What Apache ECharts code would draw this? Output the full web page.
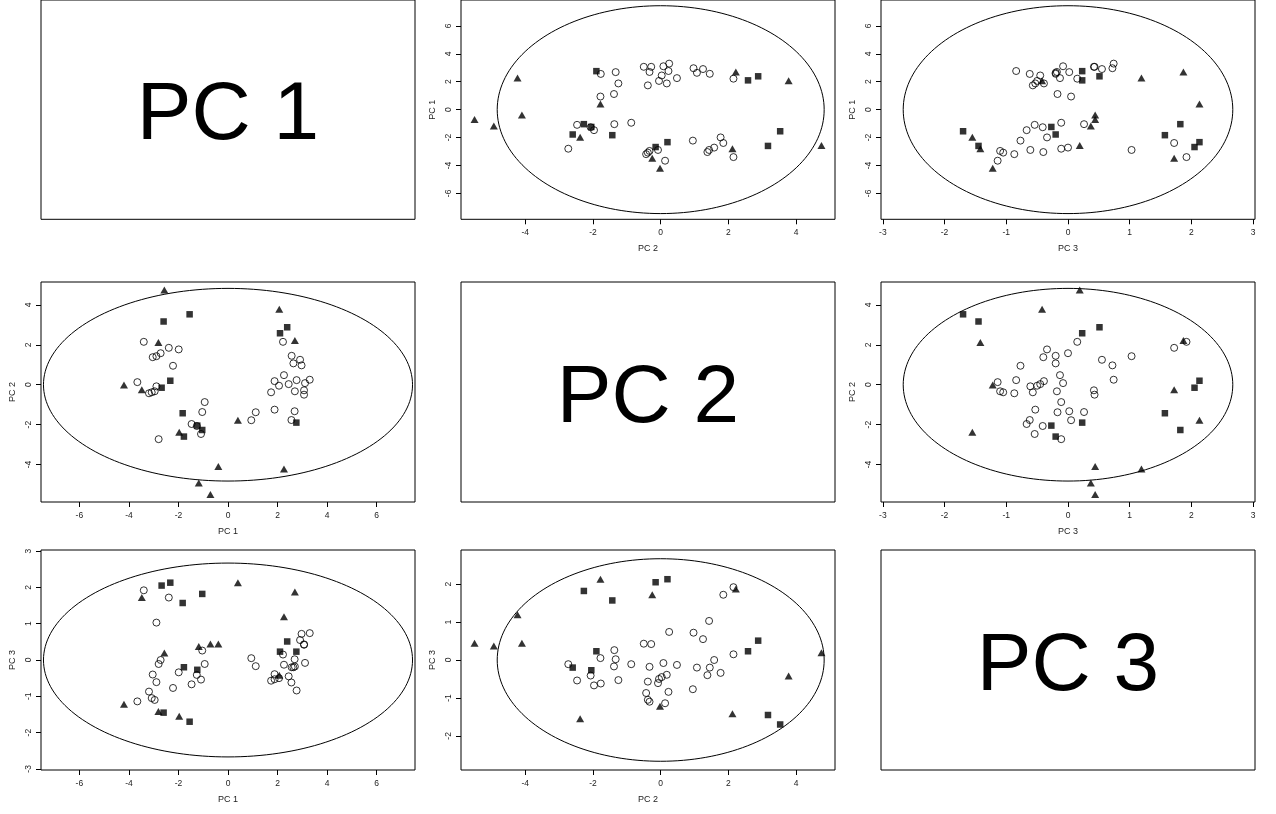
<!DOCTYPE html>
<html><head><meta charset="utf-8">
<script src="https://cdn.jsdelivr.net/npm/echarts@6/dist/echarts.min.js"></script>
<style>html,body{margin:0;padding:0;background:#fff}#c{width:1276px;height:814px}</style>
</head><body><div id="c"></div>
<script>
const varNames = ['PC 1', 'PC 2', 'PC 3'];

// open circles
const circlePC1 = [-3.40,-2.39,-1.99,-2.72,-2.89,-3.04,-2.22,-3.66,-2.89,-2.96,-3.08,-3.19,-0.94,-1.04,-1.47,-1.09,-2.80,
                   2.22,2.57,2.91,2.64,2.97,2.26,3.30,2.77,1.88,2.45,2.06,3.11,3.07,3.07,2.70,1.74,1.12,0.94,1.88,2.69,2.56,-1.26];
const circlePC2 = [2.15,1.85,1.77,1.58,1.43,1.38,0.95,0.13,-0.08,-0.33,-0.38,-0.43,-0.87,-1.37,-1.97,-2.47,-2.73,
                   2.15,1.45,1.25,1.07,0.97,0.48,0.25,0.23,0.18,0.03,-0.05,0.08,-0.28,-0.50,-0.33,-0.38,-1.38,-1.78,-1.25,-1.33,-1.77,-2.07];
const circlePC3 = [1.92,1.72,-0.34,0.00,1.03,-0.40,-0.77,-1.14,-0.61,-1.10,-1.05,-0.87,-0.11,0.26,-0.67,-0.54,-0.11,
                   0.15,-0.20,0.55,-0.20,0.72,-0.13,0.74,-0.84,-0.39,-0.45,-0.50,-0.08,0.42,0.43,-0.18,-0.57,-0.17,0.05,-0.53,0.02,-0.62,-0.41];

// filled squares
const squarePC1 = [-1.55,-2.60,2.10,2.39,-2.33,-2.68,-1.83,-1.24,-1.04,-1.78,2.76];
const squarePC2 = [3.53,3.17,2.58,2.88,0.20,-0.15,-1.43,-2.05,-2.27,-2.60,-1.90];
const squarePC3 = [-1.70,-1.45,0.23,0.51,2.13,2.05,1.57,-0.27,1.82,-0.20,0.23];

// filled triangles
const trianglePC1 = [-2.57,2.07,-2.81,2.70,-4.20,-3.48,0.40,-1.97,-0.39,2.26,-1.18,-0.71];
const trianglePC2 = [4.75,3.78,2.12,2.22,-0.02,-0.25,-1.78,-2.38,-4.10,-4.23,-4.93,-5.50];
const trianglePC3 = [0.19,-0.42,-1.42,1.87,-1.22,1.72,2.13,-1.55,0.44,1.19,0.37,0.44];

// ellipse semi-axes (PC1, PC2, PC3)
const ellipseRadii = [7.45, 4.83, 2.67];

// tick labels
const ticksPC1 = [-6,-4,-2,0,2,4,6];
const ticksPC2 = [-4,-2,0,2,4];
const ticksPC3 = [-3,-2,-1,0,1,2,3];
const ticksPC3b = [-2,-1,0,1,2];

// layout
const L = [41, 461, 881], T = [-0.7, 282, 550], W = 374, H = 220;
const xRanges = [[-7.55,7.55],[-5.9,5.15],[-3.03,3.03]];
const xTicks = [ticksPC1, ticksPC2, ticksPC3];
const yRanges = [[null,[-7.86,7.86],[-7.86,7.86]],[[-5.88,5.15],null,[-5.88,5.15]],[[-3.03,3.03],[-2.9,2.9],null]];
const yTicks = [[null,ticksPC1,ticksPC1],[ticksPC2,null,ticksPC2],[ticksPC3,ticksPC3b,null]];

const FONT = 'Liberation Sans';
const groups = [
  {pcs:[circlePC1,circlePC2,circlePC3], symbol:'circle', size:7, style:{color:'rgba(0,0,0,0)', borderColor:'#000', borderWidth:1}},
  {pcs:[trianglePC1,trianglePC2,trianglePC3], symbol:'triangle', size:[8,7], style:{color:'#000', borderWidth:0}},
  {pcs:[squarePC1,squarePC2,squarePC3], symbol:'rect', size:6.5, style:{color:'#000', borderWidth:0}}
];

const grid = [], xAxis = [], yAxis = [], series = [], graphic = [];
let k = 0;
for (let r = 0; r < 3; r++) {
  for (let c = 0; c < 3; c++) {
    grid.push({left:L[c], top:T[r], width:W, height:H, show:true, borderColor:'#000', borderWidth:1, backgroundColor:'rgba(0,0,0,0)'});
    if (r === c) {
      xAxis.push({gridIndex:k, type:'value', show:false, min:0, max:1});
      yAxis.push({gridIndex:k, type:'value', show:false, min:0, max:1});
      graphic.push({type:'text', x:L[c]+W/2, y:T[r]+H/2+7, style:{text:varNames[r], font:'82px "Liberation Sans"', align:'center', verticalAlign:'middle', fill:'#000'}});
    } else {
      xAxis.push({gridIndex:k, type:'value', min:xRanges[c][0], max:xRanges[c][1],
        axisLine:{show:false, onZero:false}, splitLine:{show:false},
        axisTick:{show:true, length:5, customValues:xTicks[c], lineStyle:{color:'#000', width:1}},
        axisLabel:{customValues:xTicks[c], fontSize:8.5, color:'#222', margin:9, fontFamily:FONT},
        name:varNames[c], nameLocation:'middle', nameGap:25, nameTextStyle:{fontSize:9, color:'#222', fontFamily:FONT}});
      yAxis.push({gridIndex:k, type:'value', min:yRanges[r][c][0], max:yRanges[r][c][1],
        axisLine:{show:false, onZero:false}, splitLine:{show:false},
        axisTick:{show:true, length:5, customValues:yTicks[r][c], lineStyle:{color:'#000', width:1}},
        axisLabel:{customValues:yTicks[r][c], fontSize:8.5, color:'#222', margin:8, rotate:90, fontFamily:FONT},
        name:varNames[r], nameLocation:'middle', nameGap:24, nameRotate:90, nameTextStyle:{fontSize:9, color:'#222', fontFamily:FONT}});
      // ellipse
      const ell = [];
      for (let i = 0; i <= 180; i++) {
        const t = i / 180 * 2 * Math.PI;
        ell.push([ellipseRadii[c] * Math.cos(t), ellipseRadii[r] * Math.sin(t)]);
      }
      series.push({type:'line', xAxisIndex:k, yAxisIndex:k, data:ell, showSymbol:false, symbol:'none', silent:true,
        lineStyle:{color:'#000', width:1}, z:1, animation:false});
      groups.forEach(g => {
        series.push({type:'scatter', xAxisIndex:k, yAxisIndex:k, symbol:g.symbol, symbolSize:g.size,
          itemStyle:g.style, z:2, silent:true, animation:false,
          data:g.pcs[c].map((v,i) => [v, g.pcs[r][i]])});
      });
    }
    k++;
  }
}

const chart = echarts.init(document.getElementById('c'), null, {renderer:'canvas'});
chart.setOption({animation:false, backgroundColor:'#fff', grid, xAxis, yAxis, series, graphic});
</script>
</body></html>
